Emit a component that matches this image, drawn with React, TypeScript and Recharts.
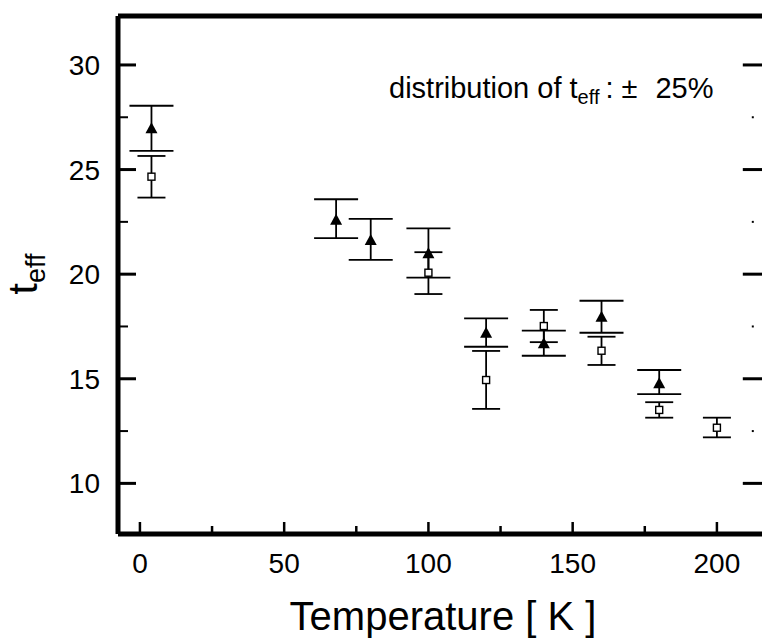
import React from 'react'
import { ScatterChart, Scatter, XAxis, YAxis, ErrorBar, Customized } from 'recharts'

// filled triangles
const triTemp = [4, 68, 80, 100, 120, 140, 160, 180]
const triTeff = [26.97, 22.6, 21.63, 21.0, 17.2, 16.7, 17.97, 14.78]
const triHigh = [28.05, 23.58, 22.64, 22.19, 17.89, 17.3, 18.73, 15.42]
const triLow = [25.89, 21.72, 20.68, 19.83, 16.53, 16.1, 17.2, 14.27]

// open squares
const sqTemp = [4, 100, 120, 140, 160, 180, 200]
const sqTeff = [24.66, 20.07, 14.94, 17.52, 16.34, 13.51, 12.66]
const sqHigh = [25.65, 21.05, 16.33, 18.29, 17.01, 13.88, 13.14]
const sqLow = [23.66, 19.05, 13.56, 16.75, 15.66, 13.14, 12.2]

const xTicks = [0, 25, 50, 75, 100, 125, 150, 175, 200]
const xLabels = [0, 50, 100, 150, 200]
const yTicks = [10, 12.5, 15, 17.5, 20, 22.5, 25, 27.5, 30]
const yLabels = [10, 15, 20, 25, 30]

const FONT = '"Liberation Sans", Arial, sans-serif'

const triData = triTemp.map((t, i) => ({ t, v: triTeff[i], err: [triTeff[i] - triLow[i], triHigh[i] - triTeff[i]] }))
const sqData = sqTemp.map((t, i) => ({ t, v: sqTeff[i], err: [sqTeff[i] - sqLow[i], sqHigh[i] - sqTeff[i]] }))

const Triangle = (props: any) => {
  const { cx, cy } = props
  return <polygon points={`${cx},${cy - 6} ${cx - 6},${cy + 5} ${cx + 6},${cy + 5}`} fill="#000" />
}

const Square = (props: any) => {
  const { cx, cy } = props
  return <rect x={cx - 3.5} y={cy - 3.5} width={7} height={7} fill="#fff" stroke="#000" strokeWidth={1.4} />
}

const LeftTick = (props: any) => {
  const { x, y, payload } = props
  const major = yLabels.includes(payload.value)
  return (
    <g>
      <line x1={x} x2={x + (major ? 18 : 10)} y1={y} y2={y} stroke="#000" strokeWidth={major ? 3 : 2} />
      {major && (
        <text x={x - 18} y={y} dy="0.36em" textAnchor="end" fontSize={28} fontFamily={FONT} fill="#000">
          {payload.value}
        </text>
      )}
    </g>
  )
}

const RightTick = (props: any) => {
  const { x, y, payload } = props
  const major = yLabels.includes(payload.value)
  return major
    ? <line x1={x} x2={x - 22} y1={y} y2={y} stroke="#000" strokeWidth={3} />
    : <line x1={x - 11} x2={x - 13} y1={y} y2={y} stroke="#000" strokeWidth={2} />
}

const BottomTick = (props: any) => {
  const { x, y, payload } = props
  const major = xLabels.includes(payload.value)
  return (
    <g>
      <line x1={x} x2={x} y1={y} y2={y - (major ? 12 : 8)} stroke="#000" strokeWidth={2.5} />
      {major && (
        <text x={x} y={y + 29} dy="0.36em" textAnchor="middle" fontSize={28} fontFamily={FONT} fill="#000">
          {payload.value}
        </text>
      )}
    </g>
  )
}

const TopTick = (props: any) => {
  const { x, y } = props
  return <line x1={x} x2={x} y1={y} y2={y + 10} stroke="#000" strokeWidth={2.5} />
}

const Labels = () => (
  <g fontFamily={FONT} fill="#000">
    <text x={443} y={630} textAnchor="middle" fontSize={40}>Temperature [ K ]</text>
    <text x={37} y={274} textAnchor="middle" fontSize={41} transform="rotate(-90, 37, 274)">
      t<tspan fontSize={27} dy={8}>eff</tspan>
    </text>
    <text x={389} y={98} fontSize={29}>
      distribution of t<tspan fontSize={20} dy={6}>eff</tspan>
      <tspan dy={-6} dx={6}>:</tspan>
      <tspan dx={8}>±</tspan>
      <tspan dx={18}>25%</tspan>
    </text>
  </g>
)

export default function App() {
  return (
    <div style={{ position: 'absolute', left: 0, top: 0, width: 762, height: 641, overflow: 'hidden', background: '#fff' }}>
      <ScatterChart width={800} height={641} margin={{ top: 0, right: 15.2, bottom: 47, left: 18 }}>
        <XAxis xAxisId="b" type="number" dataKey="t" domain={[-7.6, 216.6]} allowDataOverflow ticks={xTicks}
          axisLine={{ stroke: '#000', strokeWidth: 5 }} tickLine={false} tickSize={0} tickMargin={0} height={60} tick={<BottomTick />} />
        <XAxis xAxisId="t" orientation="top" type="number" domain={[-7.6, 216.6]} allowDataOverflow ticks={xTicks}
          axisLine={{ stroke: '#000', strokeWidth: 5 }} tickLine={false} tickSize={0} tickMargin={0} height={16} tick={<TopTick />} />
        <YAxis yAxisId="l" type="number" dataKey="v" domain={[7.58, 32.34]} allowDataOverflow ticks={yTicks}
          axisLine={{ stroke: '#000', strokeWidth: 5 }} tickLine={false} tickSize={0} tickMargin={0} width={100} tick={<LeftTick />} />
        <YAxis yAxisId="r" orientation="right" type="number" domain={[7.58, 32.34]} allowDataOverflow ticks={yTicks}
          axisLine={{ stroke: '#000', strokeWidth: 5 }} tickLine={false} tickSize={0} tickMargin={0} width={20} tick={<RightTick />} />
        <Scatter xAxisId="b" yAxisId="l" data={triData} shape={<Triangle />} isAnimationActive={false}>
          <ErrorBar dataKey="err" direction="y" width={22} stroke="#000" strokeWidth={1.8} />
        </Scatter>
        <Scatter xAxisId="b" yAxisId="l" data={sqData} shape={<Square />} isAnimationActive={false}>
          <ErrorBar dataKey="err" direction="y" width={14} stroke="#000" strokeWidth={1.8} />
        </Scatter>
        <Customized component={<Labels />} />
      </ScatterChart>
    </div>
  )
}
